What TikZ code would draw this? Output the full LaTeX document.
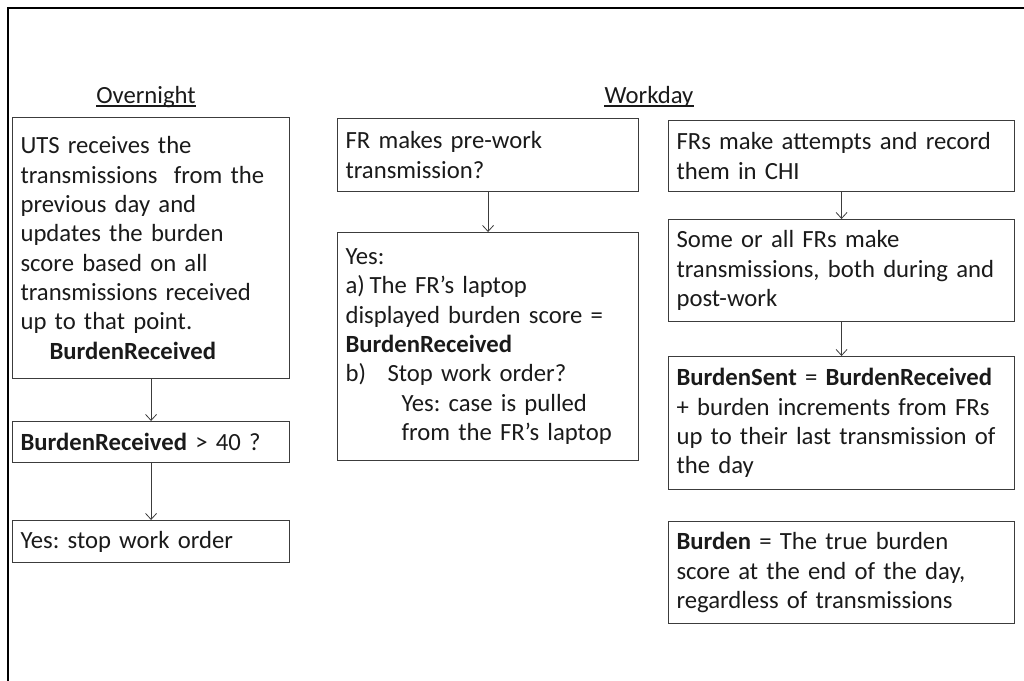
\documentclass[tikz,border=0pt]{standalone}
\usepackage{fontspec}
\setmainfont{Carlito}
\usetikzlibrary{arrows.meta}
\frenchspacing
\definecolor{txt}{HTML}{1A1A1A}
\definecolor{edge}{HTML}{3C3C3C}
\tikzset{
  box/.style={draw=edge, line width=1.1pt, anchor=north west, align=left,
    inner xsep=8pt, inner ysep=0pt, text=txt,
    font=\fontsize{24.7}{29.3}\selectfont},
  arr/.style={draw=edge, line width=0.8pt, -{Straight Barb[length=6pt,width=11pt]}},
  title/.style={anchor=base, inner sep=0pt, text=txt, font=\fontsize{24.7}{29.3}\selectfont},
  uline/.style={draw=txt, line width=1.1pt}
}
\begin{document}
\begin{tikzpicture}[x=1pt,y=-1pt]
\useasboundingbox (0,0) rectangle (1024,680);
\draw[line width=2.6pt] (8,690) -- (8,8) -- (1034,8);

\node[title] (ov) at (146,103) {Overnight};
\draw[uline] ([yshift=-3pt]ov.base west) -- ([yshift=-3pt]ov.base east);
\node[title] (wd) at (649,103) {Workday};
\draw[uline] ([yshift=-3pt]wd.base west) -- ([yshift=-3pt]wd.base east);

\node[box, text width=261pt, minimum height=261pt] (A) at (12,117)
  {UTS receives the\\ transmissions~ from the\\ previous day and\\ updates the burden\\ score based on all\\ transmissions received\\ up to that point.\\ \hspace*{29pt}\textbf{BurdenReceived}};
\node[box, text width=261pt, minimum height=41pt] (B) at (12,421)
  {\textbf{BurdenReceived} > 40 ?};
\node[box, text width=261pt, minimum height=42pt] (C) at (12,520)
  {Yes: stop work order};

\node[box, text width=285pt, minimum height=73pt] (D) at (337,118)
  {FR makes pre-work\\ transmission?};
\node[box, text width=285pt, minimum height=228pt] (E) at (337,232)
  {Yes:\\ \makebox[24pt][l]{a)}The FR’s laptop\\ displayed burden score =\\ \textbf{BurdenReceived}\\ \makebox[42pt][l]{b)}Stop work order?\\ \hspace*{56pt}Yes: case is pulled\\ \hspace*{56pt}from the FR’s laptop};

\node[box, text width=330pt, minimum height=71pt] (F) at (668,120)
  {FRs make attempts and record\\ them in CHI};
\node[box, text width=330pt, minimum height=102pt] (G) at (668,219)
  {Some or all FRs make\\ transmissions, both during and\\ post-work};
\node[box, text width=330pt, minimum height=133pt] (H) at (668,356)
  {\textbf{BurdenSent} = \textbf{BurdenReceived}\\ + burden increments from FRs\\ up to their last transmission of\\ the day};
\node[box, text width=330pt, minimum height=102pt] (I) at (668,521)
  {\textbf{Burden} = The true burden\\ score at the end of the day,\\ regardless of transmissions};

\draw[arr] (A.south) -- (B.north);
\draw[arr] (B.south) -- (C.north);
\draw[arr] (D.south) -- (E.north);
\draw[arr] (F.south) -- (G.north);
\draw[arr] (G.south) -- (H.north);
\end{tikzpicture}
\end{document}
